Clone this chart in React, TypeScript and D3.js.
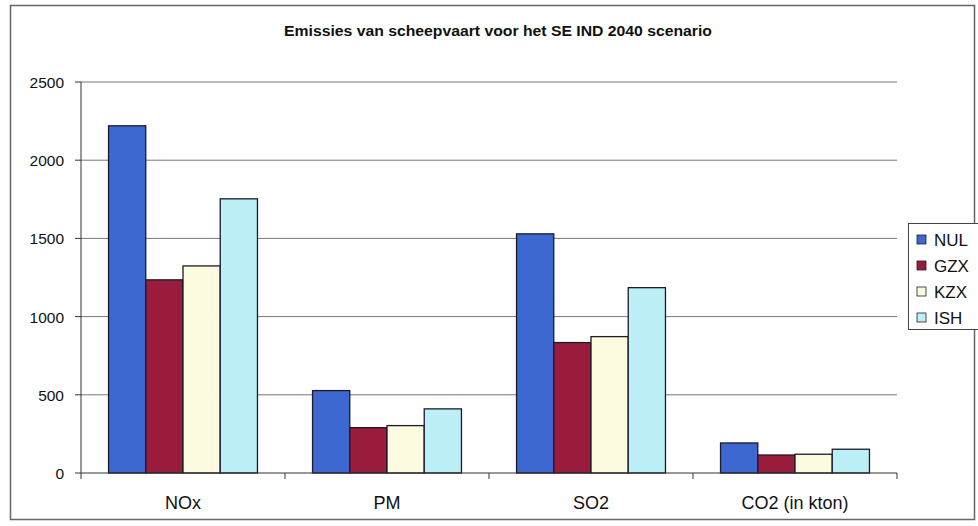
import React from 'react';
import * as d3 from 'd3';

const categories = ['NOx', 'PM', 'SO2', 'CO2 (in kton)'];
const seriesNames = ['NUL', 'GZX', 'KZX', 'ISH'];
const seriesColors = ['#3d68cf', '#9a1c3c', '#fcfbe0', '#bdeff6'];
const nul = [2220, 527, 1529, 192];
const gzx = [1235, 290, 834, 115];
const kzx = [1324, 303, 872, 120];
const ish = [1753, 410, 1185, 152];
const yTicks = [0, 500, 1000, 1500, 2000, 2500];

const seriesValues = [nul, gzx, kzx, ish];

const App = () => {
    const width = 978;
    const height = 526;
    const plot = { left: 81, right: 897, top: 82, bottom: 473 };

    const x0 = d3.scaleBand<string>()
        .domain(categories)
        .range([plot.left, plot.right])
        .paddingInner(0.27)
        .paddingOuter(0.135);
    const x1 = d3.scaleBand<string>()
        .domain(seriesNames)
        .range([0, x0.bandwidth()]);
    const y = d3.scaleLinear().domain([0, 2500]).range([plot.bottom, plot.top]);

    const step = (plot.right - plot.left) / categories.length;
    const bounds = d3.range(categories.length + 1).map(i => plot.left + i * step);

    const font = 'Arial, "Liberation Sans", sans-serif';

    return (
        <svg width={width} height={height} style={{ position: 'absolute', left: 0, top: 0, background: '#fff' }}>
            {/* outer frame */}
            <rect x={10.5} y={5.5} width={964} height={514} fill="#fff" stroke="#666" strokeWidth={1.5} />

            <text x={498} y={36} textAnchor="middle" fontFamily={font} fontSize={14} fontWeight="bold" fill="#111"
                textLength={428} lengthAdjust="spacingAndGlyphs">
                Emissies van scheepvaart voor het SE IND 2040 scenario
            </text>

            {/* gridlines */}
            {yTicks.filter(t => t > 0).map(t => (
                <line key={t} x1={plot.left} x2={plot.right} y1={y(t)} y2={y(t)} stroke="#777" strokeWidth={1} />
            ))}

            {/* y axis */}
            <line x1={plot.left} x2={plot.left} y1={plot.top} y2={plot.bottom} stroke="#333" strokeWidth={1} />
            {yTicks.map(t => (
                <g key={t}>
                    <line x1={plot.left - 6} x2={plot.left} y1={y(t)} y2={y(t)} stroke="#333" />
                    <text x={plot.left - 17} y={y(t) + 6} textAnchor="end" fontFamily={font} fontSize={15.5} fill="#111">{t}</text>
                </g>
            ))}

            {/* bars */}
            {categories.map((c, ci) => (
                <g key={c} transform={`translate(${x0(c)},0)`}>
                    {seriesNames.map((s, si) => (
                        <rect
                            key={s}
                            x={x1(s)}
                            y={y(seriesValues[si][ci])}
                            width={x1.bandwidth()}
                            height={y(0) - y(seriesValues[si][ci])}
                            fill={seriesColors[si]}
                            stroke="#1a1a2a"
                            strokeWidth={1.3}
                        />
                    ))}
                </g>
            ))}

            {/* x axis */}
            <line x1={plot.left} x2={plot.right} y1={plot.bottom} y2={plot.bottom} stroke="#333" strokeWidth={1} />
            {bounds.map((b, i) => (
                <line key={i} x1={b} x2={b} y1={plot.bottom} y2={plot.bottom + 6} stroke="#333" />
            ))}
            {categories.map(c => (
                <text key={c} x={(x0(c) ?? 0) + x0.bandwidth() / 2} y={509} textAnchor="middle" fontFamily={font} fontSize={18} fill="#111">{c}</text>
            ))}

            {/* legend */}
            <rect x={908.5} y={223.5} width={75} height={106} fill="#fff" stroke="#444" strokeWidth={1} />
            {seriesNames.map((s, i) => (
                <g key={s} transform={`translate(917,${240 + i * 26})`}>
                    <rect x={0} y={-5} width={9} height={9} fill={seriesColors[i]} stroke="#222" strokeWidth={0.8} />
                    <text x={17} y={6} fontFamily={font} fontSize={17} fill="#111">{s}</text>
                </g>
            ))}
        </svg>
    );
};

export default App;
